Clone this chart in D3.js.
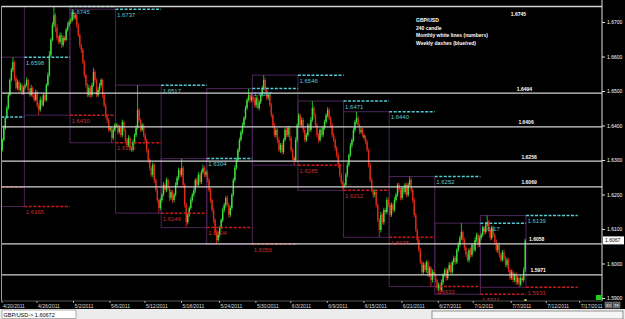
<!DOCTYPE html>
<html>
<head>
<meta charset="utf-8">
<script src="https://cdn.jsdelivr.net/npm/d3@7"></script>
<style>
  html, body { margin: 0; padding: 0; background: #000; }
  svg { display: block; font-family: "Liberation Sans", Arial, sans-serif; }
</style>
</head>
<body>
<div id="chart"></div>
<script>
// GBP/USD H4 candles, prices kept as pips above basePrice
const basePrice = 1.59;
const firstOpen = 414;
const closes = [
  // week of 4/18 (partial)
  429,458,493,522,551,588,632,661,684,638,609,626,603,617,594,609,
  // 4/25
  617,632,603,588,609,588,574,597,559,545,574,559,588,574,617,646,704,748,791,820,783,754,742,762,733,754,748,777,791,800,
  // 5/2
  806,829,812,820,791,762,733,719,684,646,617,588,609,588,617,655,632,588,603,617,632,588,559,530,516,487,493,464,487,501,
  // 5/9
  501,481,493,472,510,487,458,443,464,435,429,452,472,493,545,516,487,501,472,458,429,400,377,357,386,342,313,284,261,284,
  // 5/16
  299,328,313,342,319,290,307,284,299,328,348,371,357,377,328,270,220,241,261,284,299,313,342,328,357,336,365,377,357,365,
  // 5/23
  342,313,284,255,226,191,168,183,203,226,255,270,290,270,241,261,299,342,377,400,429,458,481,501,522,551,574,588,574,583,
  // 5/30
  574,559,580,551,568,588,609,632,603,580,588,559,530,501,472,487,458,429,443,423,458,487,472,493,464,429,406,400,458,501,
  // 6/6
  530,501,516,487,458,472,501,487,516,551,530,501,472,458,487,472,493,510,530,545,522,501,472,458,435,414,386,357,336,325,
  // 6/13
  328,357,386,414,443,458,487,510,522,501,481,487,472,464,452,429,386,342,313,299,307,270,226,197,241,220,255,249,284,270,
  // 6/20
  241,270,255,284,299,328,313,290,319,307,328,299,328,342,313,284,241,197,168,139,104,75,96,81,104,67,87,52,75,67,
  // 6/27
  52,29,38,23,46,67,81,58,81,96,75,104,116,104,139,154,174,191,168,145,125,110,139,125,154,139,168,183,154,174,
  // 7/4
  183,203,191,212,220,197,174,203,183,162,139,154,125,110,133,116,96,110,81,58,75,52,67,46,58,40,58,52,81,167
];
const wickUp = [
  6,5,8,4,6,7,5,6,14,4,6,8,5,7,4,6,
  5,8,4,6,9,4,5,8,4,6,10,5,7,4,6,8,12,6,8,25,6,10,5,8,6,7,5,6,8,6,
  6,8,5,7,4,6,5,4,6,5,4,6,9,5,7,12,6,5,8,6,5,4,6,5,4,6,5,4,6,5,
  6,5,8,6,7,5,4,6,8,5,6,7,5,8,72,6,5,7,4,6,5,4,6,5,7,4,5,6,4,6,
  6,8,5,7,6,5,7,6,5,8,6,7,5,27,6,5,7,6,5,8,6,7,5,6,8,5,7,10,6,5,
  5,7,6,5,6,5,7,8,6,5,7,6,5,8,6,7,5,6,8,6,5,7,6,8,5,7,6,19,6,8,
  6,8,5,7,6,5,7,14,6,8,5,7,6,5,7,6,5,8,6,7,5,6,8,5,7,6,5,6,8,5,
  6,5,8,6,5,7,6,5,8,20,6,5,7,6,5,8,6,7,5,8,6,5,7,6,5,6,7,5,6,5,
  5,6,7,5,6,5,7,6,18,6,5,8,6,5,7,6,5,6,7,5,8,6,5,6,9,6,7,5,8,6,
  6,7,5,8,6,5,7,6,5,8,6,5,7,10,6,5,7,6,5,6,7,5,8,6,5,7,6,5,8,6,
  6,5,7,6,8,5,6,7,5,8,6,5,7,6,5,8,6,26,5,7,6,8,5,7,6,5,8,6,5,7,
  6,7,5,8,19,6,5,7,6,5,8,6,7,5,6,8,5,7,6,5,7,6,5,8,6,5,7,6,8,5
];
const wickDn = [
  8,5,4,6,3,5,4,5,6,9,5,6,7,4,6,5,
  6,4,9,5,4,7,6,4,8,15,5,7,4,6,5,4,6,5,4,6,12,8,6,5,9,6,7,4,5,6,
  5,6,7,5,8,6,7,9,6,8,7,6,5,8,6,5,7,6,5,6,7,8,6,7,9,6,5,14,6,5,
  6,8,5,7,6,5,7,6,5,8,6,5,7,6,5,7,6,5,6,8,7,9,8,6,7,8,6,7,15,6,
  7,5,8,6,7,9,6,8,7,5,6,7,8,6,9,8,16,7,6,5,7,6,8,6,5,7,6,5,7,6,
  7,6,8,7,9,8,12,6,7,5,6,7,8,6,9,7,6,5,7,6,5,6,5,7,6,5,6,5,9,6,
  7,6,8,5,7,6,5,6,8,7,6,5,7,8,6,7,9,6,8,7,6,5,7,6,8,7,6,15,6,7,
  7,6,5,8,7,6,5,7,6,5,8,6,7,8,6,5,7,6,5,7,6,8,7,6,8,7,9,8,7,13,
  6,5,7,6,5,8,6,7,5,6,7,5,6,8,7,6,8,7,6,9,7,8,6,21,7,6,8,7,6,7,
  7,6,8,5,7,6,5,7,6,5,7,8,6,5,7,8,7,6,8,7,6,9,7,6,8,7,6,19,7,6,
  7,6,8,12,6,7,5,8,6,7,5,6,8,7,6,5,7,6,8,7,6,5,7,8,6,7,5,6,8,6,
  7,6,8,5,6,7,8,6,5,7,6,8,7,6,5,7,6,8,7,6,5,7,6,8,7,9,6,5,7,6
];

// weekly ranges (first entry = week before the visible one)
const weekStart = [-44, -14, 16, 46, 76, 106, 136, 166, 196, 226, 256, 286, 316, 346, 380];
const weekHigh = [1.6425, 1.6598, 1.6745, 1.6737, 1.6517, 1.6304, 1.6507, 1.6546, 1.6471, 1.6440, 1.6252, 1.6117, 1.6139];
const weekLow  = [1.6222, 1.6165, 1.6430, 1.6350, 1.6146, 1.6104, 1.6056, 1.6285, 1.6212, 1.6076, 1.5933, 1.5911, 1.5931];

// monthly white lines
const monthlyLevels = [1.6745, 1.6494, 1.6396, 1.6297, 1.6222, 1.6057, 1.5967];
const monthlyLabels = ['1.6745', '1.6494', '1.6406', '1.6258', '1.6069', '1.6058', '1.5971'];
const monthlyLabelBar = [336, 340, 341, 343, 343, 348, 349];

// axes
const priceTicks = [1.59, 1.60, 1.61, 1.62, 1.63, 1.64, 1.65, 1.66, 1.67];
const dateBars = [1, 24, 48, 72, 95, 119, 144, 168, 191, 215, 239, 264, 288, 311, 336, 359, 381];
const dateLabels = ['4/20/2011', '4/26/2011', '5/2/2011', '5/6/2011', '5/12/2011', '5/18/2011', '5/24/2011',
  '5/30/2011', '6/3/2011', '6/9/2011', '6/15/2011', '6/21/2011', '6/27/2011', '7/1/2011', '7/7/2011',
  '7/12/2011', '7/17/2011'];
const legendLines = ['GBP/USD', '240 candle', 'Monthly white lines (numbers)', 'Weekly dashes (blue/red)'];
const lastPrice = 1.6067;
const statusText = 'GBP/USD-> 1.60672';

const W = 625, H = 319;
const x = d3.scaleLinear().domain([0, 396]).range([0, 602]);
const y = d3.scaleLinear().domain([1.59, 1.67]).range([298, 22]);
const yp = p => y(basePrice + p / 10000);
const barW = x(1) - x(0);

const bars = closes.map((c, i) => {
  const o = i === 0 ? firstOpen : closes[i - 1];
  return { i, o, c, h: Math.max(o, c) + wickUp[i], l: Math.min(o, c) - wickDn[i] };
});

const svg = d3.select('#chart').append('svg')
  .attr('width', W).attr('height', H)
  .style('background', '#000');

svg.append('defs').append('clipPath').attr('id', 'plot')
  .append('rect').attr('x', 2).attr('y', 0).attr('width', 600).attr('height', 301);

const plot = svg.append('g').attr('clip-path', 'url(#plot)');
const boxLayer = plot.append('g');
const candleLayer = plot.append('g');
const lineLayer = plot.append('g');
const labelLayer = plot.append('g');

// weekly boxes
boxLayer.selectAll('rect')
  .data(weekHigh.map((h, w) => ({ w, h, l: weekLow[w] })))
  .enter().append('rect')
  .attr('x', d => x(weekStart[d.w]))
  .attr('width', d => x(weekStart[d.w + 1]) - x(weekStart[d.w]))
  .attr('y', d => y(d.h))
  .attr('height', d => y(d.l) - y(d.h))
  .attr('fill', 'none')
  .attr('stroke', '#4c2459')
  .attr('stroke-width', 1);

// candles
const candle = candleLayer.selectAll('g').data(bars).enter().append('g');
candle.append('line')
  .attr('x1', d => x(d.i) + barW / 2).attr('x2', d => x(d.i) + barW / 2)
  .attr('y1', d => yp(d.h)).attr('y2', d => yp(d.l))
  .attr('stroke', d => d.c >= d.o ? '#22b822' : '#c41c1c')
  .attr('stroke-width', 1);
candle.append('rect')
  .attr('x', d => x(d.i) + barW / 2 - 0.7)
  .attr('width', 1.4)
  .attr('y', d => yp(Math.max(d.o, d.c)))
  .attr('height', d => Math.max(1, yp(Math.min(d.o, d.c)) - yp(Math.max(d.o, d.c))))
  .attr('fill', d => Math.abs(d.c - d.o) <= 8 ? '#a88e2e' : (d.c >= d.o ? '#44dc44' : '#d82c14'));

// weekly dashes: previous week's high (cyan) and low (red) across the next week
const dashData = weekHigh.map((h, w) => ({ w, h, l: weekLow[w] }));
lineLayer.selectAll('line.hi').data(dashData).enter().append('line')
  .attr('x1', d => x(weekStart[d.w + 1])).attr('x2', d => x(weekStart[d.w + 2]))
  .attr('y1', d => y(d.h)).attr('y2', d => y(d.h))
  .attr('stroke', '#56c9d3').attr('stroke-width', 1.5).attr('stroke-dasharray', '3,1.5');
lineLayer.selectAll('line.lo').data(dashData).enter().append('line')
  .attr('x1', d => x(weekStart[d.w + 1])).attr('x2', d => x(weekStart[d.w + 2]))
  .attr('y1', d => y(d.l)).attr('y2', d => y(d.l))
  .attr('stroke', '#c41c1c').attr('stroke-width', 1.5).attr('stroke-dasharray', '3,1.5');

// labels only where their start is on screen
const labelData = dashData.filter(d => x(weekStart[d.w + 1]) >= 0);
labelLayer.selectAll('text.hi').data(labelData).enter().append('text')
  .attr('x', d => x(weekStart[d.w + 1]) + 1.5)
  .attr('y', d => y(d.h) + 7.5)
  .attr('fill', '#5fc6cf').style('font-size', '6px')
  .text(d => d.h.toFixed(4));
labelLayer.selectAll('text.lo').data(labelData).enter().append('text')
  .attr('x', d => x(weekStart[d.w + 1]) + 1.5)
  .attr('y', d => y(d.l) + 7.5)
  .attr('fill', '#c43030').style('font-size', '6px')
  .text(d => d.l.toFixed(4));

// monthly white lines
lineLayer.selectAll('line.month').data(monthlyLevels).enter().append('line')
  .attr('x1', 2).attr('x2', 602)
  .attr('y1', d => y(d)).attr('y2', d => y(d))
  .attr('stroke', '#d2d2d2').attr('stroke-width', 1.3);
labelLayer.selectAll('text.month').data(monthlyLevels).enter().append('text')
  .attr('x', (d, i) => x(monthlyLabelBar[i]))
  .attr('y', d => y(d) < 15 ? y(d) + 9.5 : y(d) - 2.5)
  .attr('fill', '#fff').style('font-size', '5px').style('font-weight', 'bold')
  .text((d, i) => monthlyLabels[i]);

// legend
labelLayer.selectAll('text.legend').data(legendLines).enter().append('text')
  .attr('x', 416).attr('y', (d, i) => 22 + i * 7.7)
  .attr('fill', '#fff').style('font-size', '5px').style('font-weight', 'bold')
  .text(d => d);

// frame
svg.append('line').attr('x1', 1.5).attr('x2', 1.5).attr('y1', 6).attr('y2', 301)
  .attr('stroke', '#9a9a9a').attr('stroke-width', 1);
svg.append('line').attr('x1', 602).attr('x2', 602).attr('y1', 0).attr('y2', 301)
  .attr('stroke', '#e0e0e0').attr('stroke-width', 1);
svg.append('line').attr('x1', 1.5).attr('x2', 602).attr('y1', 301).attr('y2', 301)
  .attr('stroke', '#555').attr('stroke-width', 1);

// price axis
const yAxis = d3.axisRight(y).tickValues(priceTicks).tickFormat(d3.format('.4f'))
  .tickSize(3).tickPadding(2);
const yAxisG = svg.append('g').attr('transform', 'translate(602,0)').call(yAxis);
yAxisG.select('.domain').remove();
yAxisG.selectAll('line').attr('stroke', '#ddd');
yAxisG.selectAll('text').attr('fill', '#fff').style('font-size', '5px')
  .style('font-family', '"Liberation Sans", Arial, sans-serif');

// last price box
svg.append('rect').attr('x', 603).attr('y', y(lastPrice) - 4).attr('width', 21).attr('height', 8)
  .attr('fill', '#fff');
svg.append('text').attr('x', 605).attr('y', y(lastPrice) + 1.8)
  .attr('fill', '#000').style('font-size', '5px').text(lastPrice.toFixed(4));

// date axis
const xAxis = d3.axisBottom(x).tickValues(dateBars).tickFormat((d, i) => dateLabels[i])
  .tickSize(2).tickPadding(1);
const xAxisG = svg.append('g').attr('transform', 'translate(0,301)').call(xAxis);
xAxisG.select('.domain').remove();
xAxisG.selectAll('line').attr('stroke', '#aaa');
xAxisG.selectAll('text').attr('fill', '#ddd').attr('text-anchor', 'start').attr('dx', 1)
  .style('font-size', '5px').style('font-family', '"Liberation Sans", Arial, sans-serif');

// small terminal widgets
svg.append('rect').attr('x', 596).attr('y', 295).attr('width', 5).attr('height', 5).attr('fill', '#1fd01f');
svg.append('rect').attr('x', x(345)).attr('y', 299).attr('width', 2).attr('height', 2).attr('fill', '#e4d44a');
['SY', 'TF'].forEach((t, i) => {
  svg.append('rect').attr('x', 605 + i * 8).attr('y', 302).attr('width', 7).attr('height', 6)
    .attr('fill', '#5a5a5a').attr('stroke', '#999').attr('stroke-width', 0.5);
  svg.append('text').attr('x', 606 + i * 8).attr('y', 306.8).attr('fill', '#fff')
    .style('font-size', '4px').text(t);
});

// status bar
svg.append('rect').attr('x', 0).attr('y', 309).attr('width', W).attr('height', 10).attr('fill', '#ececec');
svg.append('rect').attr('x', 2).attr('y', 310).attr('width', 74).attr('height', 8.5)
  .attr('fill', '#fff').attr('stroke', '#9c9c9c').attr('stroke-width', 0.8);
svg.append('text').attr('x', 3.5).attr('y', 316.8).attr('fill', '#000')
  .style('font-size', '5.5px').text(statusText);
svg.append('rect').attr('x', 432).attr('y', 311).attr('width', 191).attr('height', 8)
  .attr('fill', '#f6f6f6').attr('stroke', '#7a7a7a').attr('stroke-width', 0.8);
</script>
</body>
</html>
